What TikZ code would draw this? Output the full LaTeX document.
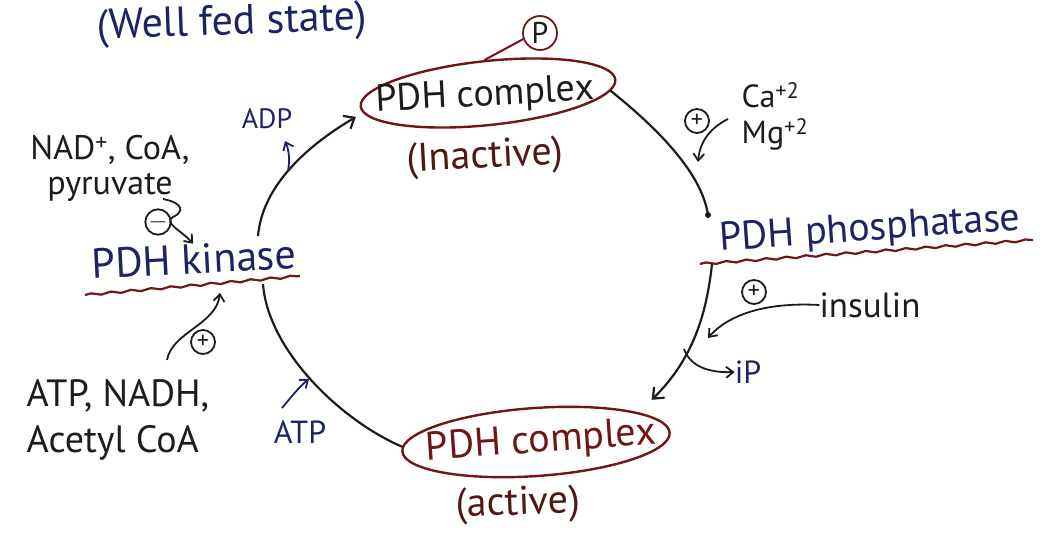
\documentclass[tikz,border=0pt]{standalone}
\usepackage{fontspec}
\setmainfont{PT Sans}
\usetikzlibrary{shapes.geometric,arrows.meta,decorations.pathmorphing,calc}
\definecolor{inkblue}{RGB}{28,36,98}
\definecolor{inkred}{RGB}{112,22,22}
\definecolor{inkbrown}{RGB}{80,24,20}
\definecolor{inkblack}{RGB}{28,28,28}
\newcommand{\fsz}[2]{\fontsize{#1}{#2}\selectfont}
\begin{document}
\begin{tikzpicture}[x=1pt,y=-1pt,
  ln/.style={line width=2.2pt, draw=inkblack},
  arr/.style={ln, -{Straight Barb[length=9pt,width=15pt,line width=2.2pt]}},
  arrS/.style={line width=1.8pt, draw=inkblack, -{Straight Barb[length=7pt,width=11pt,line width=1.8pt]}},
  wavy/.style={draw=inkred, line width=2.2pt, decorate, decoration={snake, amplitude=1.1pt, segment length=20pt}},
  sign/.style={circle, draw=inkblack, line width=1.8pt, inner sep=0pt, minimum size=24pt, font=\fsz{24}{24}, text=inkblack},
  oval/.style={ellipse, draw=inkred, line width=2.4pt, inner sep=0pt},
  lbl/.style={font=\fsz{36}{31}, text=inkblack, inner sep=0pt},
  blbl/.style={font=\fsz{28}{28}, text=inkblue, inner sep=0pt}
]
\useasboundingbox (0,0) rectangle (1045,534);

% title
\node[font=\fsz{42}{42}, text=inkblue, rotate=2, inner sep=0pt] (well) at (232,24) {(Well fed state)};

% top (inactive) complex
\node[oval, minimum width=256pt, minimum height=64pt, rotate=6] (top) at (488,93) {};
\node[font=\fsz{38}{38}, text=inkblack, rotate=3, inner sep=0pt] (toptxt) at (485,96) {PDH complex};
\node[font=\fsz{40}{40}, text=inkbrown, rotate=3, inner sep=0pt] (inact) at (485,158) {(Inactive)};
\node[sign, draw=inkred, minimum size=34pt, font=\fsz{30}{30}] (pc) at (540,33) {P};
\draw[draw=inkred, line width=2pt] (pc.200) -- (top.north);

% bottom (active) complex
\node[oval, minimum width=268pt, minimum height=68pt, rotate=4] (bot) at (536,442) {};
\node[font=\fsz{40}{40}, text=inkred, rotate=4, inner sep=0pt] (bottxt) at (541,442) {PDH complex};
\node[font=\fsz{40}{40}, text=inkbrown, rotate=2, inner sep=0pt] (act) at (518,505) {(active)};

% PDH kinase
\node[font=\fsz{42}{42}, text=inkblue, rotate=3, inner sep=0pt] (kin) at (194,259) {PDH kinase};
\coordinate (kinT) at (258,236);
\coordinate (kinB) at (263,284);
\coordinate (kinU1) at (85,295);
\coordinate (kinU2) at (300,276);
\draw[wavy] (kinU1) -- (kinU2);

% PDH phosphatase
\node[font=\fsz{40}{40}, text=inkblue, rotate=4, inner sep=0pt] (pho) at (870,230) {PDH phosphatase};
\coordinate (phoT) at (708,215);
\coordinate (phoB) at (712,264);
\coordinate (phoU1) at (700,264);
\coordinate (phoU2) at (1033,240);
\draw[wavy] (phoU1) -- (phoU2);

% main cycle arcs
\draw[ln] (top.-5) .. controls (662,132) and (702,175) .. (phoT);
\fill[inkblack] (phoT) circle (3pt);
\draw[arr, shorten >=18pt] (phoB) .. controls (706,320) and (690,362) .. (bot.12);
\draw[ln] (bot.178) .. controls (340,420) and (268,350) .. (kinB);
\draw[arr, shorten >=8pt] (kinT) .. controls (262,190) and (300,150) .. (top.183);

% ADP / ATP
\node[blbl] (adp) at (267,119) {ADP};
\coordinate (adpS) at (288,171);
\coordinate (adpE) at (285,141);
\draw[arrS, draw=inkblue] (adpS) .. controls (290,160) and (289,150) .. (adpE);
\node[blbl, font=\fsz{32}{32}] (atp) at (300,432) {ATP};
\coordinate (atpS) at (282,408);
\coordinate (atpE) at (309,379);
\draw[arrS, draw=inkblue] (atpS) .. controls (292,396) and (300,386) .. (atpE);

% kinase inhibitors
\node[lbl, font=\fsz{34}{35}, align=center] (nad) at (110,168) {NAD\textsuperscript{+}, CoA,\\pyruvate};
\node[sign] (minus) at (158,222) {$-$};
\coordinate (pyrS) at (163,199);
\draw[arrS] (pyrS) .. controls (184,203) and (184,212) .. (173,217) .. controls (163,223) and (182,231) .. (kin.north);

% kinase activators
\node[sign] (plusK) at (203,342) {+};
\coordinate (actS) at (167,360);
\coordinate (actE) at (220,293);
\draw[arrS] (actS) .. controls (172,332) and (216,325) .. (actE);
\node[lbl, font=\fsz{38}{46}, align=left] (atpn) at (118,420) {ATP, NADH,\\Acetyl CoA};

% phosphatase activators
\node[sign] (plusCa) at (697,121) {+};
\node[lbl, font=\fsz{32}{36}, align=left] (ions) at (775,116) {Ca\textsuperscript{+2}\\Mg\textsuperscript{+2}};
\coordinate (caS) at (728,119);
\coordinate (caE) at (698,162);
\draw[arrS] (caS) .. controls (712,127) and (700,140) .. (caE);

\node[sign] (plusI) at (754,292) {+};
\node[lbl, font=\fsz{35}{35}] (ins) at (870,305) {insulin};
\coordinate (insE) at (708,338);
\draw[arrS] (ins.west) .. controls (765,302) and (728,315) .. (insE);

\node[lbl, font=\fsz{32}{32}, text=inkblue] (ip) at (748,372) {iP};
\coordinate (ipS) at (684,349);
\draw[arrS] (ipS) .. controls (690,366) and (708,373) .. (ip.west);
\end{tikzpicture}
\end{document}
